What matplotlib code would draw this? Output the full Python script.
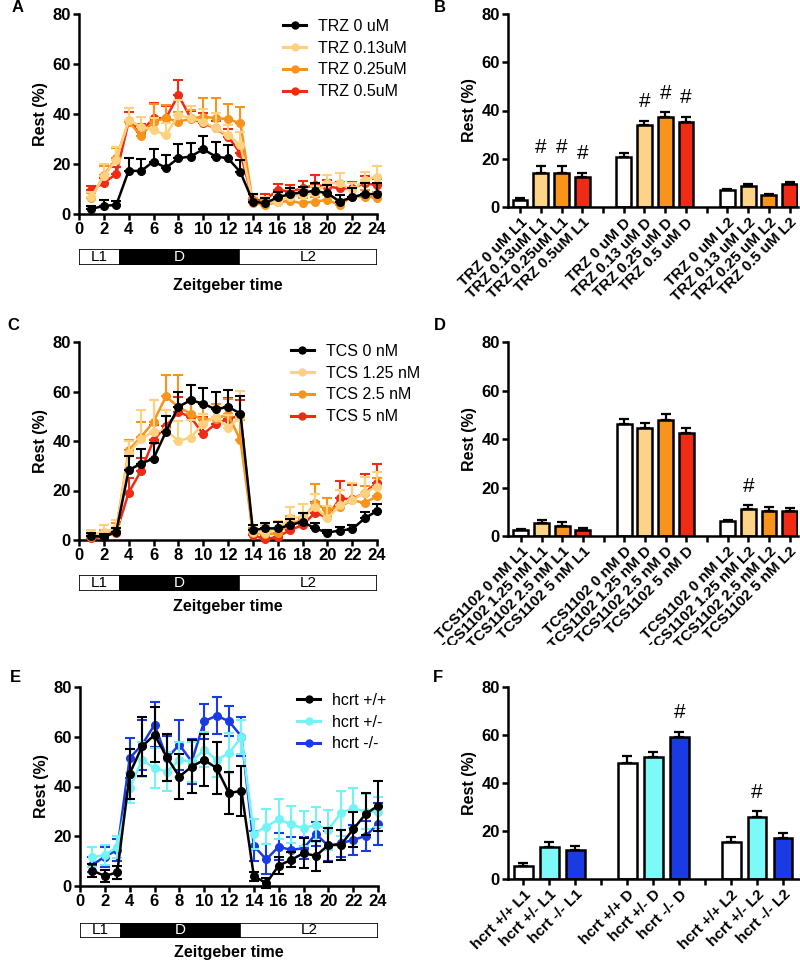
import numpy as np
import matplotlib
matplotlib.use("Agg")
import matplotlib.pyplot as plt
from matplotlib.lines import Line2D
from matplotlib.patches import Rectangle

plt.rcParams['font.family'] = ['Liberation Sans', 'DejaVu Sans']

# ---------------- data ----------------
hours = list(range(1, 25))

# Panel A (TRZ)
trz_names = ['TRZ 0 uM', 'TRZ 0.13uM', 'TRZ 0.25uM', 'TRZ 0.5uM']
trz_0 = [2.0, 3.3, 3.6, 17.3, 17.2, 21.0, 18.5, 22.3, 23.0, 25.9, 23.0, 22.3, 16.7,
         5.0, 4.3, 6.7, 7.9, 8.7, 9.2, 8.3, 5.0, 6.7, 8.0, 7.9]
trz_0_err = [1.2, 2.3, 1.7, 5.0, 4.7, 5.0, 5.1, 5.7, 5.3, 5.3, 5.8, 5.3, 4.8,
             2.9, 2.0, 2.3, 2.4, 2.2, 3.3, 3.3, 2.6, 3.6, 4.3, 4.4]
trz_013 = [6.7, 15.2, 21.6, 37.6, 35.0, 33.6, 31.6, 39.6, 38.3, 37.0, 34.3, 31.6, 27.6,
           5.0, 4.3, 5.0, 7.0, 7.6, 8.3, 12.3, 12.3, 9.6, 13.6, 15.0]
trz_013_err = [2.0, 4.7, 5.4, 4.7, 4.0, 5.0, 5.0, 6.0, 5.0, 5.0, 6.0, 4.0, 5.4,
               2.5, 2.5, 3.0, 3.0, 3.0, 3.0, 3.3, 4.0, 3.0, 3.4, 4.3]
trz_025 = [6.3, 15.6, 22.3, 37.0, 31.2, 37.0, 38.3, 37.0, 38.0, 39.0, 38.3, 38.0, 36.3,
           4.3, 3.7, 4.7, 5.2, 4.3, 5.0, 5.6, 3.6, 7.0, 7.0, 6.5]
trz_025_err = [2.0, 3.5, 4.0, 5.3, 4.0, 7.0, 5.5, 4.0, 3.5, 7.5, 8.0, 6.0, 6.5,
               2.0, 2.0, 2.0, 2.0, 2.0, 2.0, 2.0, 2.0, 2.5, 2.5, 2.5]
trz_05 = [9.6, 12.5, 16.0, 37.0, 33.0, 38.3, 38.3, 47.6, 38.3, 36.3, 34.3, 31.0, 24.3,
          5.6, 5.6, 9.6, 9.0, 10.3, 11.6, 11.0, 10.3, 10.3, 12.3, 11.6]
trz_05_err = [1.5, 2.0, 3.0, 4.0, 3.0, 6.0, 5.0, 6.0, 3.0, 4.0, 3.0, 3.0, 3.0,
              2.0, 2.5, 2.5, 2.5, 3.0, 4.0, 2.5, 2.5, 2.5, 3.0, 2.5]

# Panel B
trz_bar_labels = ['TRZ 0 uM L1', 'TRZ 0.13uM L1', 'TRZ 0.25uM L1', 'TRZ 0.5uM L1',
                  'TRZ 0 uM D', 'TRZ 0.13 uM D', 'TRZ 0.25 uM D', 'TRZ 0.5 uM D',
                  'TRZ 0 uM L2', 'TRZ 0.13 uM L2', 'TRZ 0.25 uM L2', 'TRZ 0.5 uM L2']
trz_bar_vals = [2.8, 14.3, 14.3, 12.4, 20.7, 34.0, 37.2, 35.4, 6.9, 8.8, 4.8, 9.5]
trz_bar_err = [0.8, 2.5, 2.5, 1.7, 1.6, 1.8, 2.0, 1.8, 0.6, 0.6, 0.5, 0.8]
trz_bar_sig = [False, True, True, True, False, True, True, True, False, False, False, False]

# Panel C (TCS)
tcs_names = ['TCS 0 nM', 'TCS 1.25 nM', 'TCS 2.5 nM', 'TCS 5 nM']
tcs_0 = [1.7, 1.3, 3.4, 28.2, 30.9, 32.9, 43.7, 53.8, 56.5, 55.1, 52.8, 53.8, 51.1,
         4.0, 4.7, 4.7, 6.0, 7.4, 4.7, 3.0, 3.8, 4.4, 8.7, 11.8]
tcs_0_err = [1.0, 1.0, 1.5, 5.8, 6.0, 6.3, 6.3, 6.0, 6.0, 6.2, 7.0, 6.8, 7.0,
             2.0, 2.0, 2.5, 2.5, 3.5, 2.0, 1.2, 1.5, 1.8, 2.5, 2.8]
tcs_125 = [2.0, 3.4, 4.7, 35.0, 41.0, 43.7, 44.4, 40.0, 41.4, 47.0, 49.7, 45.4, 49.7,
           3.4, 3.0, 4.7, 8.7, 9.4, 13.4, 8.7, 14.1, 16.1, 19.1, 21.5]
tcs_125_err = [2.0, 2.5, 3.5, 5.0, 11.5, 13.0, 8.0, 8.0, 7.0, 4.0, 4.0, 5.0, 10.5,
               2.5, 3.0, 3.0, 4.5, 5.0, 5.0, 5.0, 6.0, 7.0, 6.5, 6.0]
tcs_25 = [1.3, 2.0, 4.0, 36.3, 41.7, 47.7, 58.0, 53.8, 51.0, 48.4, 49.0, 50.8, 40.3,
          3.0, 2.3, 2.7, 6.7, 8.0, 14.8, 12.1, 13.4, 16.1, 15.0, 17.7]
tcs_25_err = [1.5, 2.0, 3.0, 4.0, 6.0, 9.0, 8.5, 13.0, 6.0, 7.0, 6.0, 6.0, 8.0,
              2.0, 2.0, 2.0, 3.0, 3.0, 8.0, 5.0, 7.0, 7.0, 7.0, 7.5]
tcs_5 = [0.7, 1.3, 3.0, 19.1, 28.0, 40.3, 46.0, 51.7, 49.7, 42.7, 47.0, 48.8, 50.4,
         2.0, 0.3, 1.3, 4.0, 6.0, 11.0, 9.1, 16.8, 16.4, 19.1, 23.1]
tcs_5_err = [1.0, 1.0, 2.0, 6.0, 5.0, 6.0, 6.5, 6.0, 6.0, 7.0, 6.0, 8.5, 6.0,
             1.5, 1.5, 1.5, 2.0, 2.5, 4.5, 3.5, 7.0, 6.0, 7.5, 7.5]

# Panel D
tcs_bar_labels = ['TCS1102 0 nM L1', 'TCS1102 1.25 nM L1', 'TCS1102 2.5 nM L1', 'TCS1102 5 nM L1',
                  'TCS1102 0 nM D', 'TCS1102 1.25 nM D', 'TCS1102 2.5 nM D', 'TCS1102 5 nM D',
                  'TCS1102 0 nM L2', 'TCS1102 1.25 nM L2', 'TCS1102 2.5 nM L2', 'TCS1102 5 nM L2']
tcs_bar_vals = [2.5, 5.2, 4.1, 2.5, 46.1, 44.5, 47.7, 42.4, 6.2, 11.2, 10.3, 10.3]
tcs_bar_err = [0.5, 1.5, 1.5, 0.8, 2.0, 2.0, 2.5, 2.0, 0.5, 1.4, 1.5, 1.3]
tcs_bar_sig = [False, False, False, False, False, False, False, False, False, True, False, False]

# Panel E (hcrt)
hcrt_names = ['hcrt +/+', 'hcrt +/-', 'hcrt -/-']
hcrt_wt = [6.2, 4.0, 5.5, 45.1, 56.1, 60.8, 51.7, 44.0, 48.0, 50.7, 47.4, 37.3, 38.3,
           4.0, 1.1, 8.2, 10.5, 13.2, 12.1, 16.5, 16.5, 22.8, 28.9, 32.3]
hcrt_wt_err = [2.5, 2.3, 2.5, 10.0, 12.0, 11.0, 9.5, 9.0, 10.5, 10.4, 10.5, 8.5, 10.0,
               1.8, 2.0, 3.5, 3.0, 6.0, 6.0, 7.0, 6.0, 7.0, 8.5, 10.0]
hcrt_het = [11.5, 12.5, 15.6, 39.3, 50.7, 47.4, 46.0, 50.7, 50.0, 54.8, 50.7, 53.4, 59.9,
            21.0, 23.9, 26.8, 24.8, 23.2, 24.6, 22.6, 29.3, 31.3, 29.9, 29.9]
hcrt_het_err = [4.0, 4.0, 4.5, 6.0, 7.0, 8.0, 8.0, 7.0, 8.0, 7.0, 7.0, 8.0, 7.0,
                6.0, 7.0, 8.0, 7.5, 7.0, 7.0, 8.0, 9.0, 8.0, 7.0, 6.0]
hcrt_ko = [8.5, 11.8, 14.5, 51.4, 56.8, 64.8, 51.4, 56.8, 50.0, 66.2, 68.5, 66.2, 60.1,
           16.1, 10.7, 15.8, 14.5, 15.2, 20.9, 16.1, 17.2, 18.5, 20.1, 25.0]
hcrt_ko_err = [3.0, 4.0, 4.5, 8.0, 10.0, 9.0, 9.0, 10.0, 9.0, 7.0, 7.5, 6.0, 8.0,
               6.0, 6.0, 5.5, 5.0, 4.5, 5.0, 6.0, 5.5, 6.0, 6.0, 8.5]

# Panel F
hcrt_bar_labels = ['hcrt +/+ L1', 'hcrt +/- L1', 'hcrt -/- L1',
                   'hcrt +/+ D', 'hcrt +/- D', 'hcrt -/- D',
                   'hcrt +/+ L2', 'hcrt +/- L2', 'hcrt -/- L2']
hcrt_bar_vals = [5.3, 13.3, 11.9, 48.2, 50.9, 59.2, 15.4, 26.0, 17.0]
hcrt_bar_err = [1.2, 2.3, 2.0, 3.0, 2.2, 2.2, 2.0, 2.2, 2.0]
hcrt_bar_sig = [False, False, False, False, False, True, False, True, False]

# light/dark phases
phase_labels = ['L1', 'D', 'L2']
phase_edges = [0, 3.3, 12.9, 24]

# ---------------- style ----------------
C_BLACK = '#000000'
C_LIGHT = '#FDD17E'
C_ORANGE = '#F8941C'
C_RED = '#EF2B16'
C_CYAN = '#72F4F6'
C_BLUE = '#1A3BE3'
BAR_LIGHT = '#FDD487'
BAR_CYAN = '#7CFAF8'

W, H = 800, 961
fig = plt.figure(figsize=(W / 100, H / 100), dpi=100)


def px_axes(l, t, r, b, z=0):
    ax = fig.add_axes([l / W, 1 - b / H, (r - l) / W, (b - t) / H])
    ax.set_zorder(z)
    return ax


def style_axes(ax):
    for s in ['top', 'right']:
        ax.spines[s].set_visible(False)
    for s in ['left', 'bottom']:
        ax.spines[s].set_linewidth(1.8)
    ax.tick_params(direction='out', length=4, width=1.8, labelsize=12, pad=2)
    for lab in ax.get_yticklabels() + ax.get_xticklabels():
        lab.set_fontweight('bold')
    ax.set_ylim(0, 80)
    ax.set_yticks([0, 20, 40, 60, 80])
    ax.set_ylabel('Rest (%)', fontsize=11.5, fontweight='bold', labelpad=3)
    ax.patch.set_alpha(0)


def line_panel(ax, series, names, colors, symmetric=False, legend_pos=None):
    x = np.array(hours)
    order = list(range(len(series)))[::-1]
    for i in order:
        y, e = series[i]
        y = np.array(y); e = np.array(e)
        yerr = [e, e] if symmetric else [np.zeros_like(e), e]
        ax.errorbar(x, y, yerr=yerr, color=colors[i], marker='o', markersize=5.5,
                    lw=1.8, capsize=3.5, elinewidth=1.5, capthick=1.5, zorder=3 + (len(series) - i),
                    clip_on=False)
    ax.set_xlim(0, 24)
    ax.set_xticks(range(0, 25, 2))
    style_axes(ax)
    handles = [Line2D([0], [0], color=c, marker='o', markersize=5, lw=2.2) for c in colors]
    ax.legend(handles, names, loc='upper left', bbox_to_anchor=legend_pos, frameon=False,
              fontsize=11.5, handlelength=1.45, handletextpad=0.75, labelspacing=0.42,
              borderaxespad=0, borderpad=0)


def ld_bar(l, t, r, b):
    ax = px_axes(l, t, r, b)
    for i, lab in enumerate(phase_labels):
        x0, x1 = phase_edges[i], phase_edges[i + 1]
        dark = lab == 'D'
        ax.barh(0.5, x1 - x0, left=x0, height=1, color='black' if dark else 'white',
                edgecolor='black', linewidth=1.2)
        ax.text((x0 + x1) / 2, 0.5, lab, ha='center', va='center', fontsize=11,
                color='white' if dark else 'black')
    ax.set_xlim(0, 24)
    ax.set_ylim(0, 1)
    ax.axis('off')
    return ax


def bar_panel(ax, vals, errs, labels, colors, sig, group_size, xlim):
    n = len(vals)
    pos = [(i // group_size) * (group_size + 1) + (i % group_size) for i in range(n)]
    ax.bar(pos, vals, width=0.72, color=colors, edgecolor='black', linewidth=1.8, zorder=2)
    ax.errorbar(pos, vals, yerr=[np.zeros(n), errs], fmt='none', ecolor='black',
                elinewidth=1.6, capsize=3.5, capthick=1.6, zorder=3)
    for p, v, e, s in zip(pos, vals, errs, sig):
        if s:
            ax.text(p, v + e + 8, '#', ha='center', va='center', fontsize=15)
    gaps = [(g + 1) * (group_size + 1) - 1 for g in range(2)]
    ticks = sorted(pos + gaps)
    ax.set_xticks(ticks)
    lab_map = dict(zip(pos, labels))
    ax.set_xticklabels([lab_map.get(t, '') for t in ticks])
    ax.set_xlim(*xlim)
    style_axes(ax)
    for lab in ax.get_xticklabels():
        lab.set_rotation(45)
        lab.set_ha('right')
        lab.set_rotation_mode('anchor')
        lab.set_fontsize(11)


# ---- Panel A ----
axA = px_axes(79, 14, 377, 214)
line_panel(axA, [(trz_0, trz_0_err), (trz_013, trz_013_err), (trz_025, trz_025_err), (trz_05, trz_05_err)],
           trz_names, [C_BLACK, C_LIGHT, C_ORANGE, C_RED], legend_pos=(0.685, 0.975))
ldA = ld_bar(79, 249, 377, 265)
ldA.text(12, -1.3, 'Zeitgeber time', ha='center', va='center', fontsize=11.5, fontweight='bold',
         transform=ldA.transData)

# ---- Panel B ----
axB = px_axes(508, 14, 798, 207, z=1)
bar_panel(axB, trz_bar_vals, trz_bar_err, trz_bar_labels,
          ['white', BAR_LIGHT, C_ORANGE, C_RED] * 3, trz_bar_sig, 4, (-0.58, 13.4))

# ---- Panel C ----
axC = px_axes(79, 342, 377, 540)
line_panel(axC, [(tcs_0, tcs_0_err), (tcs_125, tcs_125_err), (tcs_25, tcs_25_err), (tcs_5, tcs_5_err)],
           tcs_names, [C_BLACK, C_LIGHT, C_ORANGE, C_RED], legend_pos=(0.71, 0.99))
ldC = ld_bar(79, 575, 377, 591)
ldC.text(12, -0.95, 'Zeitgeber time', ha='center', va='center', fontsize=11.5, fontweight='bold',
         transform=ldC.transData)

# ---- Panel D ----
axD = px_axes(508, 342, 798, 536, z=1)
bar_panel(axD, tcs_bar_vals, tcs_bar_err, tcs_bar_labels,
          ['white', BAR_LIGHT, C_ORANGE, C_RED] * 3, tcs_bar_sig, 4, (-0.62, 13.4))

# white strip: the reference image cuts off the long D labels
fig.add_artist(Rectangle((400 / W, 1 - 676 / H), 400 / W, 31 / H, transform=fig.transFigure,
                         facecolor='white', edgecolor='none', zorder=2))

# ---- Panel E ----
axE = px_axes(80, 687, 378, 886)
line_panel(axE, [(hcrt_wt, hcrt_wt_err), (hcrt_het, hcrt_het_err), (hcrt_ko, hcrt_ko_err)],
           hcrt_names, [C_BLACK, C_CYAN, C_BLUE], symmetric=True, legend_pos=(0.728, 0.97))
ldE = ld_bar(80, 923, 378, 938)
ldE.text(12, -0.95, 'Zeitgeber time', ha='center', va='center', fontsize=11.5, fontweight='bold',
         transform=ldE.transData)

# ---- Panel F ----
axF = px_axes(508, 687, 800, 879, z=3)
bar_panel(axF, hcrt_bar_vals, hcrt_bar_err, hcrt_bar_labels,
          ['white', BAR_CYAN, C_BLUE] * 3, hcrt_bar_sig, 3, (-0.59, 10.65))

# panel letters
for letter, (x, y) in zip('ABCDEF', [(18, 8), (440, 8), (13, 325), (440, 325), (15, 677), (438, 678)]):
    fig.text(x / W, 1 - y / H, letter, fontsize=12, fontweight='bold', ha='center', va='center',
             zorder=5)

fig.savefig('out.png', dpi=100, facecolor='white')
